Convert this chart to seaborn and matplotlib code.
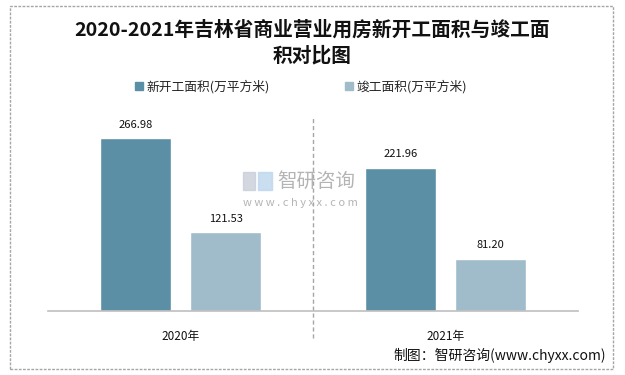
"""吉林省商业营业用房新开工面积与竣工面积对比图 (2020-2021)."""

import matplotlib
matplotlib.use("Agg")
import matplotlib.pyplot as plt
import matplotlib.patches as mpatches
import pandas as pd
import seaborn as sns

years = ["2020年", "2021年"]
series_names = ["新开工面积(万平方米)", "竣工面积(万平方米)"]
new_start = [266.98, 221.96]
completed = [121.53, 81.20]
colors = ["#5b8fa5", "#a0bccb"]

df = pd.DataFrame({
    "year": years * 2,
    "series": [series_names[0]] * 2 + [series_names[1]] * 2,
    "value": new_start + completed,
})

sns.set_theme(style="white")
plt.rcParams["font.family"] = ["Noto Sans CJK SC", "DejaVu Sans"]

fig = plt.figure(figsize=(6.25, 3.75), dpi=100)
ax = fig.add_axes([0.0768, 0.1707, 0.848, 0.517])

sns.barplot(data=df, x="year", y="value", hue="series", palette=colors,
            width=0.68, gap=0.22, saturation=1, ax=ax, legend=False)

ax.set_ylim(0, 300)
ax.set_xlim(-0.5, 1.5)
for container in ax.containers:
    ax.bar_label(container, fmt="%.2f", padding=6, fontsize=8, color="#111111")

ax.set_xlabel("")
ax.set_ylabel("")
ax.set_yticks([])
ax.tick_params(axis="x", length=0, pad=14, labelsize=8.5, colors="#111111")
for side in ["top", "left", "right"]:
    ax.spines[side].set_visible(False)
ax.spines["bottom"].set_color("#bfbfbf")
ax.spines["bottom"].set_linewidth(1.2)

# dashed separator between categories
ax.plot([0.5, 0.5], [-0.14, 1.0], transform=ax.get_xaxis_transform(),
        ls=(0, (3, 2)), color="#a6a6a6", lw=1.0, clip_on=False)

# title, two lines
fig.text(0.5, 1 - 30 / 375, "2020-2021年吉林省商业营业用房新开工面积与竣工面",
         ha="center", va="center", fontsize=14.2, fontweight="bold", color="#111111")
fig.text(0.5, 1 - 56 / 375, "积对比图",
         ha="center", va="center", fontsize=14.2, fontweight="bold", color="#111111")

handles = [mpatches.Patch(color=c, label=n) for c, n in zip(colors, series_names)]
fig.legend(handles=handles, loc="center", bbox_to_anchor=(0.482, 0.768), ncol=2,
           frameon=False, fontsize=9.2, handlelength=0.6, handleheight=0.6,
           handletextpad=0.3, columnspacing=5.9)

# watermark
fig.patches.append(mpatches.Rectangle((243 / 625, 1 - 190 / 375), 12 / 625, 18 / 375,
                                      transform=fig.transFigure, color="#c9cdd9", alpha=0.8))
fig.patches.append(mpatches.Rectangle((258 / 625, 1 - 190 / 375), 14 / 625, 18 / 375,
                                      transform=fig.transFigure, color="#bcd6ec", alpha=0.8))
fig.text(277 / 625, 1 - 181 / 375, "智研咨询", fontsize=14, color="#b4b4b4",
         ha="left", va="center")
fig.text(243 / 625, 1 - 203 / 375, "w w w . c h y x x . c o m", fontsize=8,
         color="#b4b4b4", ha="left", va="center")

fig.text(606 / 625, 1 - 355 / 375, "制图：智研咨询(www.chyxx.com)", fontsize=10,
         color="#111111", ha="right", va="center")

# outer frame
fig.patches.append(mpatches.Rectangle((10 / 625, 6 / 375), 603 / 625, 363 / 375,
                                      transform=fig.transFigure, fill=False,
                                      ec="#a6a6a6", lw=1.0, ls=(0, (2, 1))))

fig.savefig("out.png", dpi=100)
